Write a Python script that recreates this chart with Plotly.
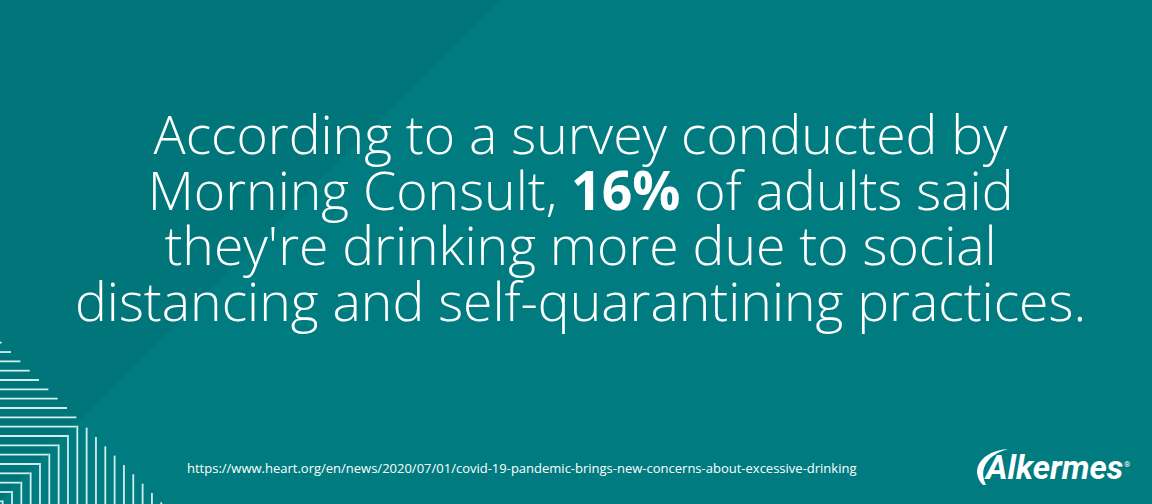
import plotly.graph_objects as go

# text content of the card
headline_lines = [
    "According to a survey conducted by",
    "Morning Consult, <b>16%</b> of adults said",
    "they're drinking more due to social",
    "distancing and self-quarantining practices.",
]
source_url = "https://www.heart.org/en/news/2020/07/01/covid-19-pandemic-brings-new-concerns-about-excessive-drinking"
brand = "Alkermes"

W, H = 1152, 504
bg = "#007c80"
bg_dark = "#00767a"
line_col = "#cfeeee"

fig = go.Figure()

shapes = []
# darker diagonal band top-left
shapes.append(dict(type="path", path="M0,0 L500,0 L0,500 Z",
                   fillcolor=bg_dark, line=dict(width=0), layer="below"))

# nested corner-line pattern, bottom left
step = 9.33
y = 342.7
while y < H:
    x_end = min(y - 341, 503 - y)
    if x_end > 0:
        shapes.append(dict(type="line", x0=0, x1=x_end, y0=y, y1=y,
                           line=dict(color=line_col, width=1.8)))
    y += step
x = 77.3 - 8 * step
while x < 165:
    y_start = max(x + 341, 503 - x)
    if y_start < H:
        shapes.append(dict(type="line", x0=x, x1=x, y0=y_start, y1=H,
                           line=dict(color=line_col, width=1.8)))
    x += step

# logo swoosh around the "A"
shapes.append(dict(type="path",
                   path="M983,485 C969,470 981,451 1008,449 C988,455 978,468 986,485 Z",
                   fillcolor="white", line=dict(width=0)))

# one block of text: line pitch comes from the base size, glyphs from the span size
pitch = 55.5
glyph = 53.5
block = "<br>".join(f"<span style='font-size:{glyph}px'>{t}</span>" for t in headline_lines)

annotations = [
    dict(x=580, y=217, text=block, showarrow=False, align="center",
         xanchor="center", yanchor="middle",
         font=dict(family="Open Sans", size=pitch / 1.3, color="white", weight=300)),
    dict(x=521, y=468, text=source_url, showarrow=False,
         xanchor="center", yanchor="middle",
         font=dict(family="Open Sans", size=13, color="white")),
    dict(x=1053, y=467, text=brand, showarrow=False,
         xanchor="center", yanchor="middle",
         font=dict(family="Roboto", size=33, color="white",
                   weight="bold", style="italic")),
    dict(x=1127, y=464, text="®", showarrow=False,
         xanchor="center", yanchor="middle",
         font=dict(family="Roboto", size=8, color="white")),
]

fig.update_layout(
    width=W, height=H,
    margin=dict(l=0, r=0, t=0, b=0),
    paper_bgcolor=bg, plot_bgcolor=bg,
    xaxis=dict(range=[0, W], visible=False, fixedrange=True),
    yaxis=dict(range=[H, 0], visible=False, fixedrange=True),
    shapes=shapes, annotations=annotations,
    showlegend=False,
)

fig.write_html("out.html", config={"displayModeBar": False},
               post_script="document.body.style.margin='0';document.body.style.background='#007c80';")
